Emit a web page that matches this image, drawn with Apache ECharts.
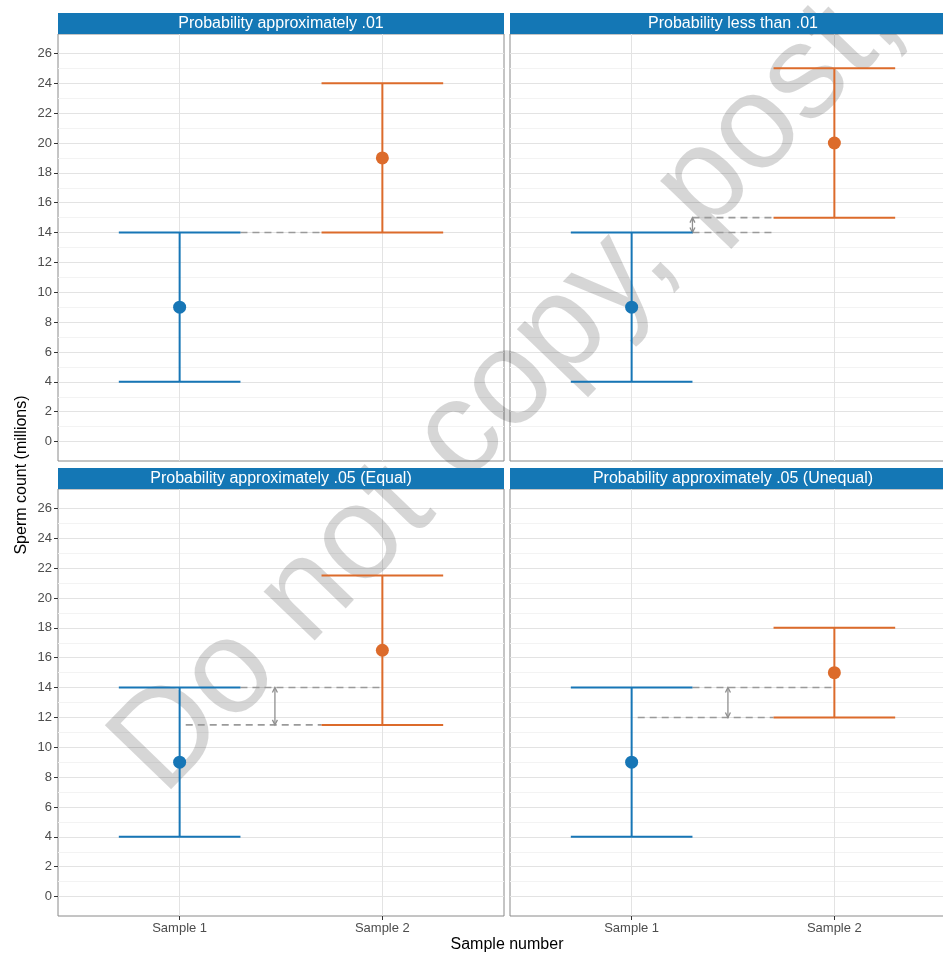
<!DOCTYPE html>
<html>
<head>
<meta charset="utf-8">
<script src="https://cdn.jsdelivr.net/npm/echarts@6/dist/echarts.min.js"></script>
<style>
  html, body { margin: 0; padding: 0; background: #fff; overflow: hidden; }
  #chart { width: 960px; height: 953px; }
</style>
</head>
<body>
<div id="chart"></div>
<script>
// facet titles
const panels = [
  'Probability approximately .01',
  'Probability less than .01',
  'Probability approximately .05 (Equal)',
  'Probability approximately .05 (Unequal)'
];
const sampleLabels = ['Sample 1', 'Sample 2'];
// sample 1 (blue)
const mean1 = [9, 9, 9, 9];
const low1 = [4, 4, 4, 4];
const high1 = [14, 14, 14, 14];
// sample 2 (orange)
const mean2 = [19, 20, 16.5, 15];
const low2 = [14, 15, 11.5, 12];
const high2 = [24, 25, 21.5, 18];
// dashed guide lines: y value, x start, x end
const guideY = [[14], [15, 14], [14, 11.5], [14, 12]];
const guideFrom = [[1.3], [1.3, 1.3], [1.3, 1.03], [1.3, 1.03]];
const guideTo = [[1.7], [1.7, 1.7], [2.0, 1.7], [2.0, 1.7]];
// double arrows between guides
const arrowX = [null, 1.3, 1.47, 1.475];
const arrowFrom = [null, 14, 11.5, 12];
const arrowTo = [null, 15, 14, 14];
const yTicks = [0, 2, 4, 6, 8, 10, 12, 14, 16, 18, 20, 22, 24, 26];
const yMinor = [1, 3, 5, 7, 9, 11, 13, 15, 17, 19, 21, 23, 25];

const BLUE = '#1776b6';
const ORANGE = '#dc6b2b';
const GUIDE = '#9a9a9a';
const FONT = 'Liberation Sans, Arial, sans-serif';
const capHalf = 0.3;

const chart = echarts.init(document.getElementById('chart'));

const gridPos = [
  { left: 58, top: 34 }, { left: 510, top: 34 },
  { left: 58, top: 489 }, { left: 510, top: 489 }
];
const W = 446, H = 427;

const grids = [], xAxes = [], yAxes = [], series = [], graphics = [];

gridPos.forEach((g, i) => {
  const isLeft = i % 2 === 0;
  const isBottom = i >= 2;
  grids.push({
    left: g.left, top: g.top, width: W, height: H,
    show: true, borderColor: '#8a8a8a', borderWidth: 1, backgroundColor: 'transparent'
  });
  xAxes.push({
    type: 'value', gridIndex: i, min: 0.4, max: 2.6, position: 'bottom',
    axisLine: { show: false, onZero: false },
    axisTick: { show: isBottom, customValues: [1, 2], length: 4, lineStyle: { color: '#333' } },
    axisLabel: {
      show: isBottom, customValues: [1, 2], color: '#4d4d4d', fontSize: 13,
      fontFamily: FONT, margin: 6,
      formatter: v => sampleLabels[Math.round(v) - 1]
    },
    splitLine: { show: true, lineStyle: { color: '#e3e3e3', width: 1 } }
  });
  // major y axis
  yAxes.push({
    type: 'value', gridIndex: i, min: -1.3, max: 27.3, position: 'left',
    axisLine: { show: false, onZero: false },
    axisTick: { show: isLeft, customValues: yTicks, length: 4, lineStyle: { color: '#333' } },
    axisLabel: {
      show: isLeft, customValues: yTicks, color: '#4d4d4d', fontSize: 13,
      fontFamily: FONT, margin: 6
    },
    splitLine: { show: true, lineStyle: { color: '#e3e3e3', width: 1 } }
  });
  // minor grid lines
  yAxes.push({
    type: 'value', gridIndex: i, min: -1.3, max: 27.3, position: 'left',
    axisLine: { show: false, onZero: false },
    axisTick: { show: false, customValues: yMinor },
    axisLabel: { show: false },
    splitLine: { show: true, lineStyle: { color: '#f3f3f3', width: 1 } }
  });

  const yIdx = i * 2;

  // dashed guides
  series.push({
    type: 'custom', xAxisIndex: i, yAxisIndex: yIdx, z: 2, silent: true,
    data: guideY[i].map((y, k) => [guideFrom[i][k], guideTo[i][k], y]),
    encode: { x: [0, 1], y: 2 },
    renderItem: (params, api) => {
      const a = api.coord([api.value(0), api.value(2)]);
      const b = api.coord([api.value(1), api.value(2)]);
      return {
        type: 'line',
        shape: { x1: a[0], y1: a[1], x2: b[0], y2: b[1] },
        style: { stroke: GUIDE, lineWidth: 1.6, lineDash: [7, 5] }
      };
    }
  });

  // double arrow
  if (arrowX[i] !== null) {
    series.push({
      type: 'custom', xAxisIndex: i, yAxisIndex: yIdx, z: 3, silent: true,
      data: [[arrowX[i], arrowFrom[i], arrowTo[i]]],
      encode: { x: 0, y: [1, 2] },
      renderItem: (params, api) => {
        const a = api.coord([api.value(0), api.value(1)]);
        const b = api.coord([api.value(0), api.value(2)]);
        const st = { stroke: '#8f8f8f', lineWidth: 1.3, fill: null };
        const hw = 2.5, hl = 5;
        return {
          type: 'group',
          children: [
            { type: 'line', shape: { x1: a[0], y1: a[1], x2: b[0], y2: b[1] }, style: st },
            { type: 'polyline', shape: { points: [[b[0] - hw, b[1] + hl], [b[0], b[1]], [b[0] + hw, b[1] + hl]] }, style: st },
            { type: 'polyline', shape: { points: [[a[0] - hw, a[1] - hl], [a[0], a[1]], [a[0] + hw, a[1] - hl]] }, style: st }
          ]
        };
      }
    });
  }

  // error bars
  series.push({
    type: 'custom', xAxisIndex: i, yAxisIndex: yIdx, z: 4, silent: true,
    data: [
      { value: [1, low1[i], high1[i]], itemStyle: { color: BLUE } },
      { value: [2, low2[i], high2[i]], itemStyle: { color: ORANGE } }
    ],
    encode: { x: 0, y: [1, 2] },
    renderItem: (params, api) => {
      const x = api.value(0);
      const a = api.coord([x, api.value(1)]);
      const b = api.coord([x, api.value(2)]);
      const w = api.size([capHalf, 0])[0];
      const st = { stroke: api.visual('color'), lineWidth: 2 };
      return {
        type: 'group',
        children: [
          { type: 'line', shape: { x1: a[0], y1: a[1], x2: b[0], y2: b[1] }, style: st },
          { type: 'line', shape: { x1: a[0] - w, y1: a[1], x2: a[0] + w, y2: a[1] }, style: st },
          { type: 'line', shape: { x1: b[0] - w, y1: b[1], x2: b[0] + w, y2: b[1] }, style: st }
        ]
      };
    }
  });

  // means
  series.push({
    type: 'scatter', xAxisIndex: i, yAxisIndex: yIdx, z: 5, silent: true,
    symbolSize: 13,
    itemStyle: { opacity: 1 },
    data: [
      { value: [1, mean1[i]], itemStyle: { color: BLUE, opacity: 1 } },
      { value: [2, mean2[i]], itemStyle: { color: ORANGE, opacity: 1 } }
    ]
  });

  // strip
  graphics.push({
    type: 'rect', z: 10,
    shape: { x: g.left, y: g.top - 21, width: W, height: 21 },
    style: { fill: '#1477b5' }
  });
  graphics.push({
    type: 'text', z: 11,
    x: g.left + W / 2, y: g.top - 10.5,
    style: {
      text: panels[i], fill: '#fff', font: '16px ' + FONT,
      align: 'center', verticalAlign: 'middle',
      textAlign: 'center', textVerticalAlign: 'middle'
    }
  });
});

// axis titles
graphics.push({
  type: 'text', z: 10, x: 22, y: 475, rotation: Math.PI / 2,
  style: {
    text: 'Sperm count (millions)', fill: '#000', font: '16px ' + FONT,
    align: 'center', verticalAlign: 'middle', textAlign: 'center', textVerticalAlign: 'middle'
  }
});
graphics.push({
  type: 'text', z: 10, x: 507, y: 945,
  style: {
    text: 'Sample number', fill: '#000', font: '16px ' + FONT,
    align: 'center', verticalAlign: 'middle', textAlign: 'center', textVerticalAlign: 'middle'
  }
});
// watermark
graphics.push({
  type: 'text', z: 1, x: 185, y: 818, rotation: 46 * Math.PI / 180,
  style: {
    text: 'Do not copy, post, or distribute', fill: 'rgba(0,0,0,0.16)',
    font: '134px ' + FONT,
    align: 'left', verticalAlign: 'bottom', textAlign: 'left', textVerticalAlign: 'bottom'
  }
});

const option = {
  animation: false,
  backgroundColor: '#fff',
  grid: grids,
  xAxis: xAxes,
  yAxis: yAxes,
  series: series,
  graphic: graphics
};
chart.setOption(option);
</script>
</body>
</html>
